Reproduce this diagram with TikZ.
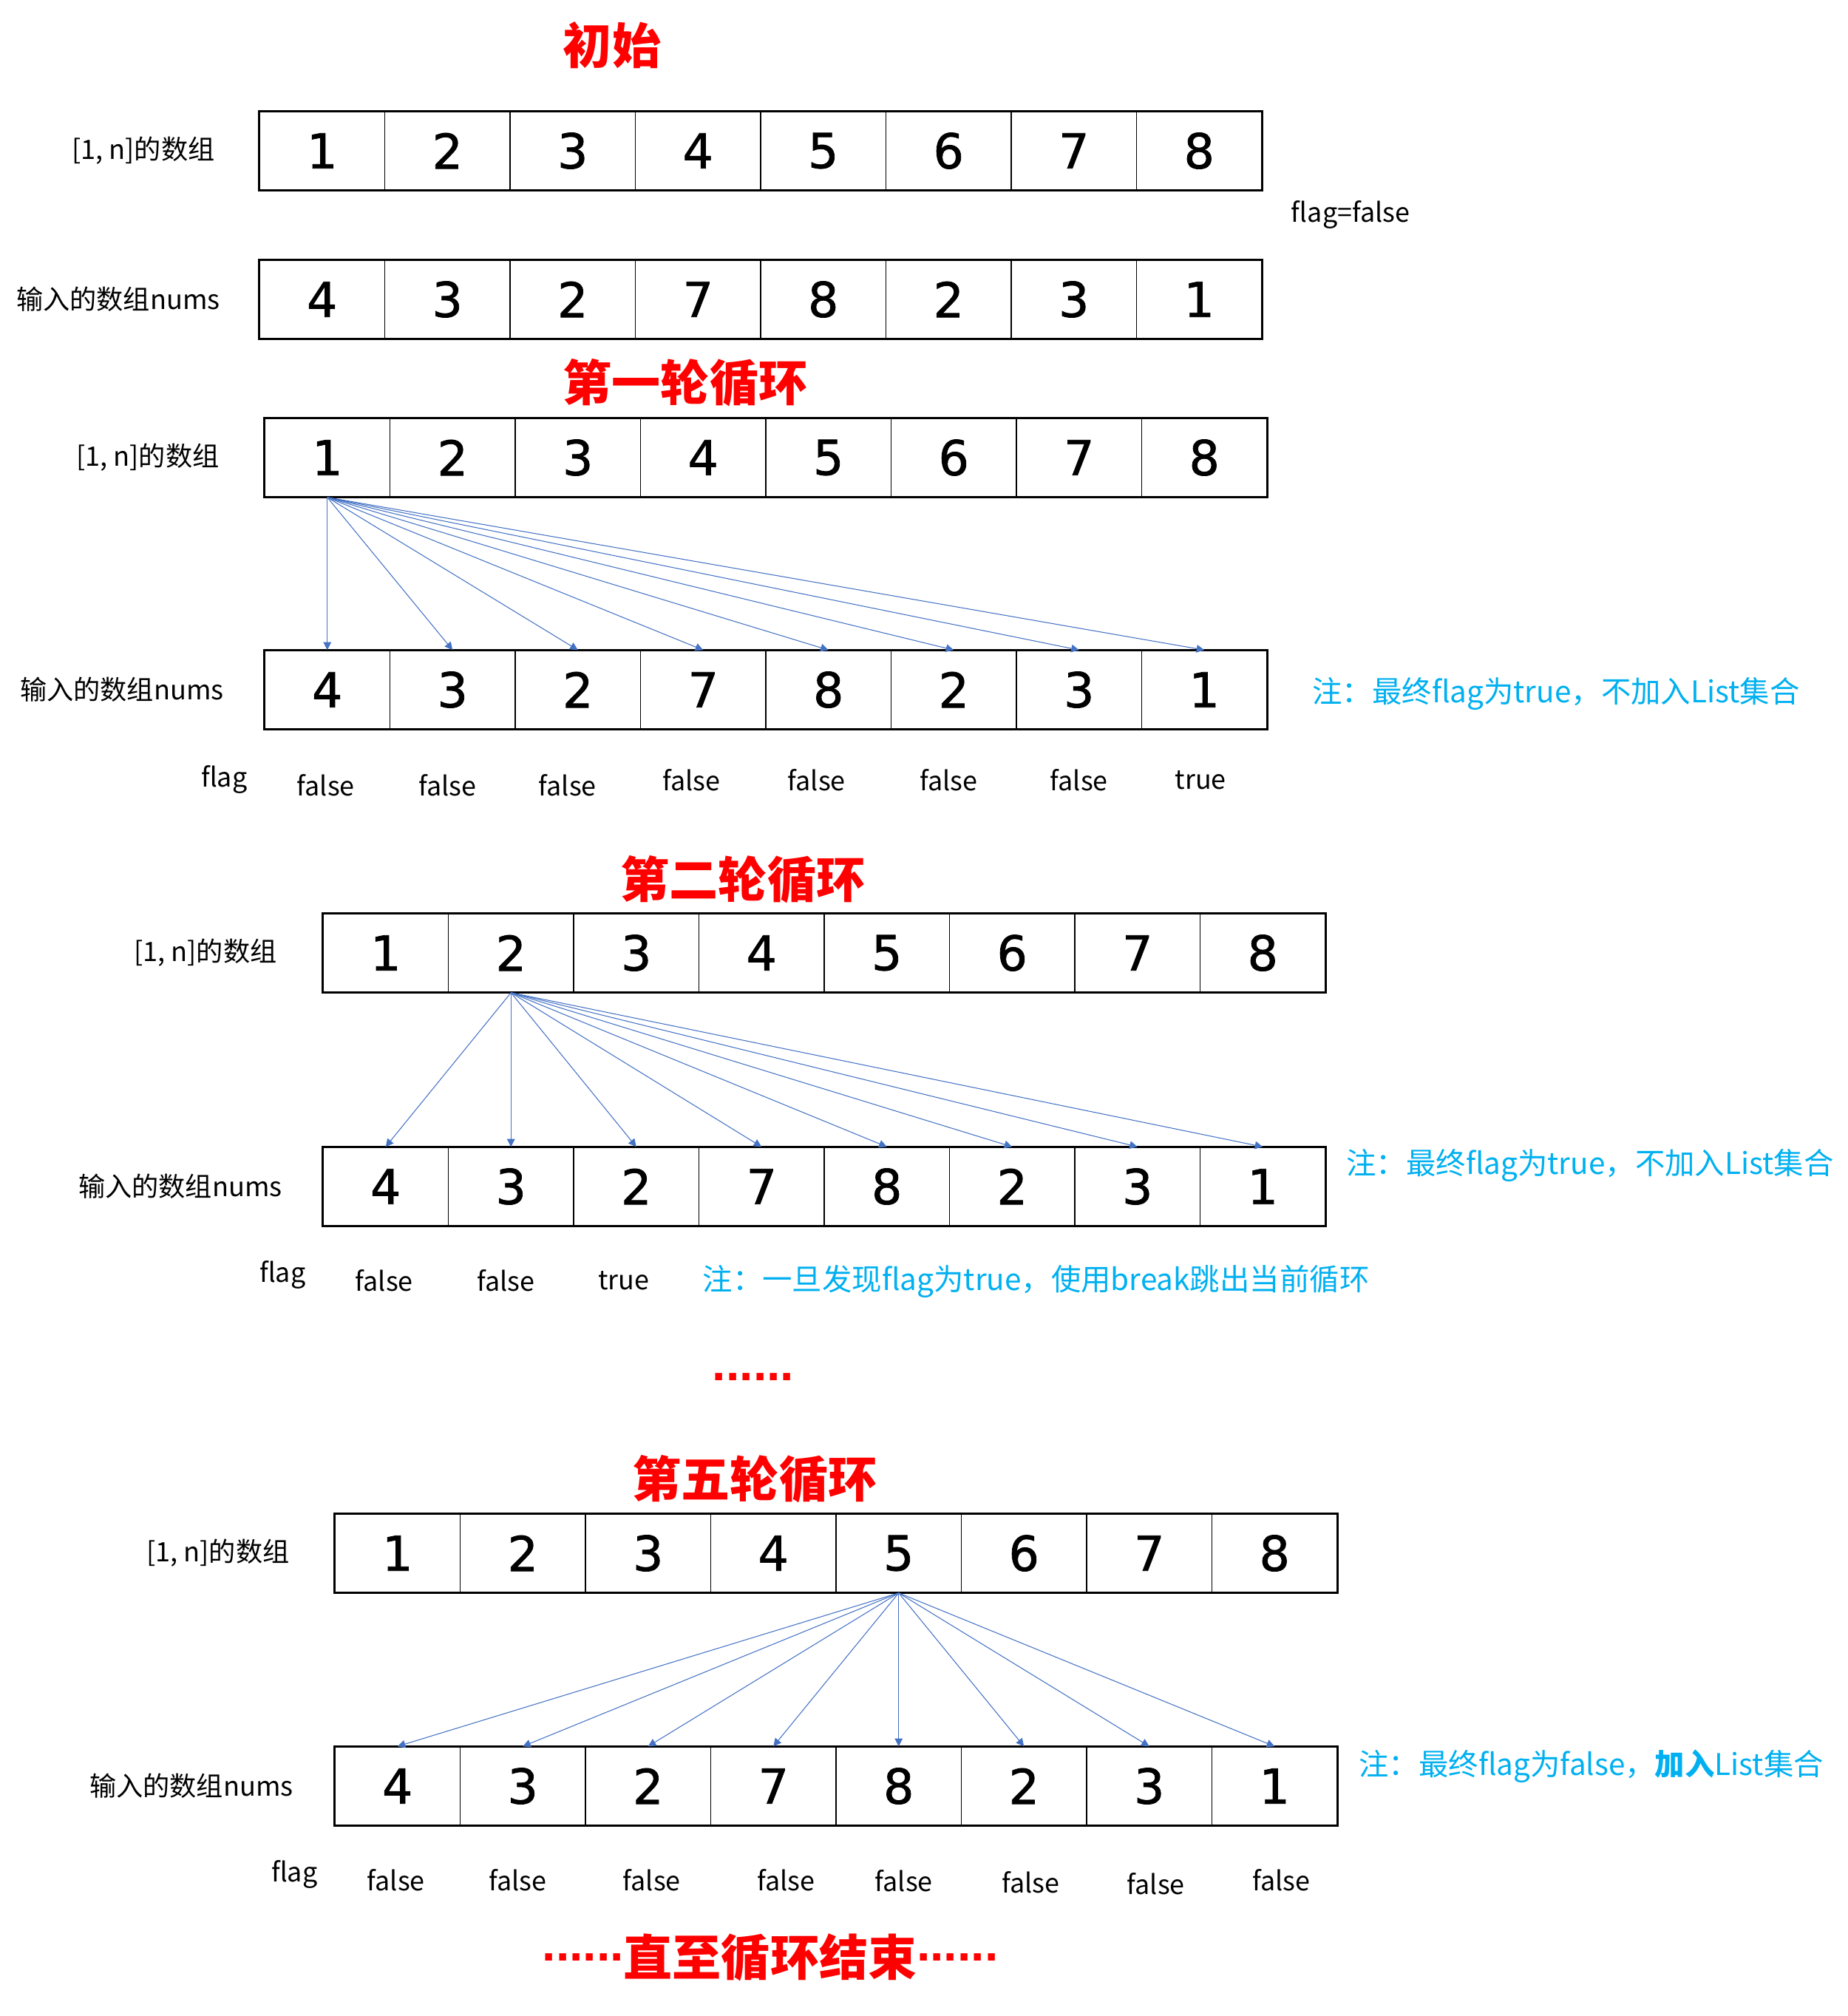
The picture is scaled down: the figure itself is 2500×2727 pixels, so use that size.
\documentclass[tikz,border=0pt]{standalone}
\usepackage{fontspec}
\setmainfont{Noto Sans CJK SC}
\newfontfamily\digitfont[FakeBold=1.2]{DejaVu Sans}
\newfontfamily\dotfont{Liberation Sans}
\usetikzlibrary{positioning,arrows.meta}

\definecolor{titlered}{HTML}{FF0000}
\definecolor{noteblue}{HTML}{00B0F0}
\definecolor{ptrblue}{HTML}{4472C4}

\tikzset{
  cell/.style={draw,line width=0.43pt,minimum width=16.95mm,minimum height=10.6mm,inner sep=0pt,
    font=\digitfont\fontsize{18.5}{20}\selectfont},
  frame/.style={draw,line width=0.65pt},
  rowlabel/.style={font=\fontsize{10.3}{12}\selectfont,inner sep=0pt,anchor=east},
  flagtxt/.style={font=\fontsize{10.2}{12}\selectfont,inner sep=0pt},
  title/.style={text=titlered,font=\bfseries\fontsize{18.8}{21}\selectfont},
  note/.style={text=noteblue,font=\fontsize{11.5}{13}\selectfont,anchor=west,inner sep=0pt},
  ptr/.style={draw=ptrblue,line width=0.3pt,-{Triangle[length=3pt,width=3pt]}}
}

% one row of eight cells: prefix, left x, top y, values
\newcommand{\numrow}[4]{%
  \foreach \v [count=\i] in {#4}
    \node[cell] (#1\i) at ({#2+(\i-0.5)*169.5},{#3+53}) {\v};
  \draw[frame] (#11.north west) rectangle (#18.south east);
}
% six square dots
\newcommand{\sixdots}{{\dotfont\bfseries......}}

\begin{document}
\begin{tikzpicture}[x=0.1mm,y=-0.1mm]
\useasboundingbox (0,0) rectangle (2500,2727);

% initial state
\node[title] (t0) at (828,61) {初始};
\numrow{a}{351}{151}{1,2,3,4,5,6,7,8}
\numrow{b}{351}{352}{4,3,2,7,8,2,3,1}
\node[rowlabel,left=5.9mm of a1] (la) {[1, n]的数组};
\node[rowlabel,left=5.2mm of b1] (lb) {输入的数组nums};
\node[flagtxt] (flag0) at (1827,290) {flag=false};

% round 1
\node[title] (t1) at (927,518) {第一轮循环};
\numrow{c}{358}{566}{1,2,3,4,5,6,7,8}
\numrow{d}{358}{880}{4,3,2,7,8,2,3,1}
\node[rowlabel,left=6mm of c1] (lc) {[1, n]的数组};
\node[rowlabel,left=5.4mm of d1] (ld) {输入的数组nums};
\foreach \j in {1,...,8}
  \draw[ptr] (c1.south) -- (d\j.north);
\node[flagtxt] (flag1) at ([xshift=-5.4mm,yshift=-6.8mm]d1.south west) {flag};
\foreach \t/\dx/\dy [count=\i] in {false/-2/75,false/-7/75,false/-14/75,false/-16/68,
    false/-16/68,false/-7/68,false/0/68,true/-5/68}
  \node[flagtxt] (fd\i) at ([xshift=\dx*0.1mm,yshift=-\dy*0.1mm]d\i.south) {\t};
\node[note] (n1) at ([xshift=6mm,yshift=-0.5mm]d8.east) {注：最终flag为true，不加入List集合};

% round 2
\node[title] (t2) at (1005,1190) {第二轮循环};
\numrow{e}{437}{1236}{1,2,3,4,5,6,7,8}
\numrow{f}{437}{1552}{4,3,2,7,8,2,3,1}
\node[rowlabel,left=6.1mm of e1] (le) {[1, n]的数组};
\node[rowlabel,left=5.4mm of f1] (lf) {输入的数组nums};
\foreach \j in {1,...,8}
  \draw[ptr] (e2.south) -- (f\j.north);
\node[flagtxt] (flag2) at ([xshift=-5.4mm,yshift=-6.6mm]f1.south west) {flag};
\foreach \t/\dx [count=\i] in {false/-2,false/-7,true/-17}
  \node[flagtxt] (ff\i) at ([xshift=\dx*0.1mm,yshift=-7.3mm]f\i.south) {\t};
\node[note] (n2) at ([xshift=2.7mm,yshift=2.9mm]f8.east) {注：最终flag为true，不加入List集合};
\node[note] (n3) at (950,1733) {注：一旦发现flag为true，使用break跳出当前循环};

\node[title] (gap) at (1019,1863) {\sixdots};

% round 5
\node[title] (t5) at (1021,2001) {第五轮循环};
\numrow{g}{453}{2048}{1,2,3,4,5,6,7,8}
\numrow{h}{453}{2363}{4,3,2,7,8,2,3,1}
\node[rowlabel,left=6mm of g1] (lg) {[1, n]的数组};
\node[rowlabel,left=5.5mm of h1] (lh) {输入的数组nums};
\foreach \j in {1,...,8}
  \draw[ptr] (g5.south) -- (h\j.north);
\node[flagtxt] (flag5) at ([xshift=-5.4mm,yshift=-6.6mm]h1.south west) {flag};
\foreach \dx/\dy [count=\i] in {-2/73,-7/73,5/73,17/73,7/74,9/76,9/78,9/73}
  \node[flagtxt] (fh\i) at ([xshift=\dx*0.1mm,yshift=-\dy*0.1mm]h\i.south) {false};
\node[note] (n5) at ([xshift=2.8mm,yshift=2.7mm]h8.east) {注：最终flag为false，\textbf{加入}List集合};

\node[title] (tend) at (1042,2648)
  {\raisebox{0.3em}{\sixdots}直至循环结束\raisebox{0.3em}{\sixdots}};
\end{tikzpicture}
\end{document}
